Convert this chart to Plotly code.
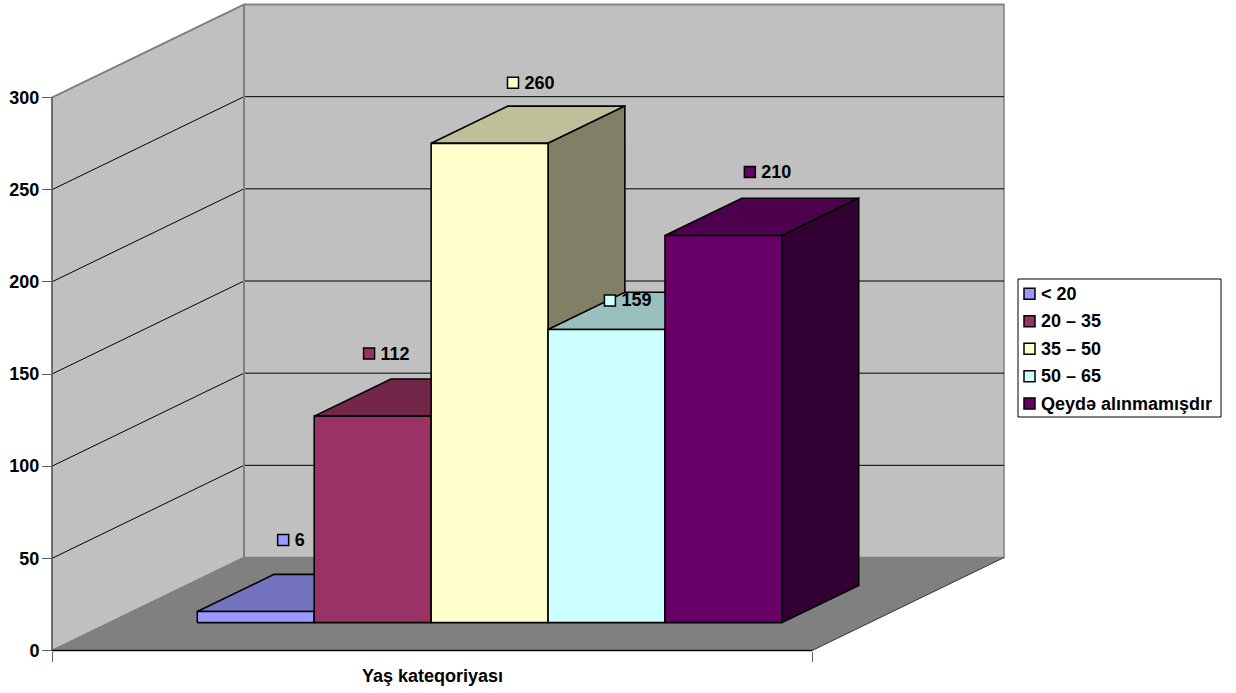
import plotly.graph_objects as go

# Respondents per age category
SERIES = ["< 20", "20 – 35", "35 – 50", "50 – 65", "Qeydə alınmamışdır"]
VALUES = [6, 112, 260, 159, 210]
FRONT_COLORS = ["#9999FF", "#993366", "#FFFFCC", "#CCFFFF", "#660066"]
TOP_COLORS = ["#7373BF", "#732649", "#BFBF99", "#99BFBF", "#4D004D"]
SIDE_COLORS = ["#4D4D80", "#4D1A33", "#808066", "#668080", "#330033"]
Y_TICKS = [0, 50, 100, 150, 200, 250, 300]
X_TITLE = "Yaş kateqoriyası"

W, H = 1236, 693
FONT = "Liberation Sans"
TEXT_SIZE = 18

# Pixel frame of the oblique projection
LEFT, RIGHT, BASE = 52, 812, 650.5
PX_PER_UNIT = 553 / 300
SHIFT_X, SHIFT_Y = 192, 93
Y_MAX = 300

# Bars sit in the middle of the floor's depth with a 150% gap width
DEPTH_FRONT, DEPTH_BACK = 0.30, 0.70
BAR_W = 1 / (len(VALUES) + 1.5)
BAR_START = 0.75 * BAR_W

# Data-label offsets from the centre of each bar's top face, in pixels
LABEL_DX = [-11, -42, -15, -35, -12]
LABEL_DY = [53, 44, 42, 10.5, 45]

# Gap between a colour key's centre and its caption, and the caption's drop
CAPTION_DX = 11.5
CAPTION_DROP = 1.5

# Custom legend box
LEG_BOX = (1018, 279, 1221, 417)
LEG_KEY_X = 1029.5
LEG_ROWS_Y = [293.7, 321.2, 348.8, 376.3, 403.5]


def project(u, value, depth):
    """Map category position, value and depth to the axes' coordinates."""
    x = u + depth * SHIFT_X / (RIGHT - LEFT)
    y = value + depth * SHIFT_Y / PX_PER_UNIT
    return x, y


def polygon(points):
    xs, ys = zip(*[project(*p) for p in points])
    return list(xs) + [xs[0]], list(ys) + [ys[0]]


def px_x(px):
    return (px - LEFT) / (RIGHT - LEFT)


def px_y(py):
    return (BASE - py) / PX_PER_UNIT


def face(points, fill, line="#000000", width=1.6):
    xs, ys = polygon(points)
    return go.Scatter(
        x=xs, y=ys, mode="lines", fill="toself", fillcolor=fill,
        line=dict(color=line, width=width), hoverinfo="skip", showlegend=False,
    )


def edge(points, color, width):
    xs, ys = zip(*[project(*p) for p in points])
    return go.Scatter(
        x=xs, y=ys, mode="lines", line=dict(color=color, width=width),
        hoverinfo="skip", showlegend=False,
    )


def keyed_caption(x, y, caption, color, hover=None):
    """Square colour key at axes position (x, y) with a bold caption to its right."""
    dx = CAPTION_DX / (RIGHT - LEFT)
    dy = CAPTION_DROP / PX_PER_UNIT
    return [
        go.Scatter(
            x=[x], y=[y], mode="markers",
            marker=dict(symbol="square", size=11, color=color, line=dict(color="#000000", width=1.5)),
            hoverinfo="skip", showlegend=False,
        ),
        go.Scatter(
            x=[x + dx], y=[y - dy], mode="text", text=[caption],
            textposition="middle right",
            textfont=dict(family=FONT, size=TEXT_SIZE, color="#000000", weight=700),
            hoverinfo="skip" if hover is None else "text",
            hovertext=hover, showlegend=False,
        ),
    ]


fig = go.Figure()

# Walls and floor
fig.add_trace(face([(0, 0, 0), (0, Y_MAX, 0), (0, Y_MAX, 1), (0, 0, 1)], "#C0C0C0", "#808080", 1.5))
fig.add_trace(face([(0, 0, 1), (0, Y_MAX, 1), (1, Y_MAX, 1), (1, 0, 1)], "#C0C0C0", "#808080", 1.5))
fig.add_trace(face([(0, 0, 0), (1, 0, 0), (1, 0, 1), (0, 0, 1)], "#808080", "#808080", 1))

# Gridlines run along the left wall and across the back wall
for tick in Y_TICKS[1:]:
    if tick == Y_MAX:
        fig.add_trace(edge([(0, tick, 1), (1, tick, 1)], "#808080", 1.5))
        fig.add_trace(edge([(0, tick, 0), (0, tick, 1)], "#808080", 1.5))
    else:
        fig.add_trace(edge([(0, tick, 0), (0, tick, 1), (1, tick, 1)], "#000000", 1))

# Frame edges on top of the walls
fig.add_trace(edge([(0, 0, 1), (0, Y_MAX, 1)], "#808080", 2))
fig.add_trace(edge([(0, 0, 0), (0, Y_MAX, 0)], "#606060", 1.5))
fig.add_trace(edge([(0, 0, 0), (1, 0, 0)], "#000000", 1.5))
fig.add_trace(edge([(1, 0, 0), (1, 0, 1)], "#404040", 1))

# Bars, drawn left to right so that nearer faces overlap correctly
for i, value in enumerate(VALUES):
    u0 = BAR_START + i * BAR_W
    u1 = u0 + BAR_W
    d0, d1 = DEPTH_FRONT, DEPTH_BACK
    fig.add_trace(face([(u0, value, d0), (u0, value, d1), (u1, value, d1), (u1, value, d0)], TOP_COLORS[i]))
    fig.add_trace(face([(u1, 0, d0), (u1, value, d0), (u1, value, d1), (u1, 0, d1)], SIDE_COLORS[i]))
    fig.add_trace(face([(u0, 0, d0), (u0, value, d0), (u1, value, d0), (u1, 0, d0)], FRONT_COLORS[i]))

# Data labels with their colour keys
for i, value in enumerate(VALUES):
    u_mid = BAR_START + (i + 0.5) * BAR_W
    cx, cy = project(u_mid, value, (DEPTH_FRONT + DEPTH_BACK) / 2)
    fig.add_traces(keyed_caption(
        cx + LABEL_DX[i] / (RIGHT - LEFT),
        cy + LABEL_DY[i] / PX_PER_UNIT,
        str(value), FRONT_COLORS[i], hover=f"{SERIES[i]}: {value}",
    ))

# Legend entries inside the white box
for i, label in enumerate(SERIES):
    fig.add_traces(keyed_caption(px_x(LEG_KEY_X), px_y(LEG_ROWS_Y[i]), label, FRONT_COLORS[i]))

fig.update_layout(
    width=W, height=H,
    margin=dict(l=0, r=0, t=0, b=0),
    paper_bgcolor="#FFFFFF", plot_bgcolor="#FFFFFF",
    showlegend=False,
    xaxis=dict(
        range=[px_x(0), px_x(W)], domain=[0, 1],
        anchor="free", position=(H - BASE) / H,
        tickvals=[0, 1], ticktext=["", ""], ticks="outside", ticklen=10,
        tickcolor="#606060", tickwidth=1,
        showgrid=False, zeroline=False, showline=False, fixedrange=True,
    ),
    yaxis=dict(
        range=[px_y(H), px_y(0)], domain=[0, 1],
        anchor="free", position=LEFT / W,
        tickvals=Y_TICKS, ticks="outside", ticklen=10, ticklabelstandoff=-1,
        tickcolor="#606060", tickwidth=1,
        tickfont=dict(family=FONT, size=TEXT_SIZE, color="#000000", weight=700),
        showgrid=False, zeroline=False, showline=False, fixedrange=True,
    ),
    shapes=[dict(
        type="rect", xref="paper", yref="paper",
        x0=LEG_BOX[0] / W, x1=LEG_BOX[2] / W,
        y0=1 - LEG_BOX[3] / H, y1=1 - LEG_BOX[1] / H,
        fillcolor="#FFFFFF", line=dict(color="#000000", width=1), layer="below",
    )],
    annotations=[dict(
        x=0.5, xref="x", y=1 - 676 / H, yref="paper",
        text=X_TITLE, showarrow=False, xanchor="center", yanchor="middle",
        font=dict(family=FONT, size=TEXT_SIZE, color="#000000", weight=700),
    )],
)

fig.write_html("out.html")
